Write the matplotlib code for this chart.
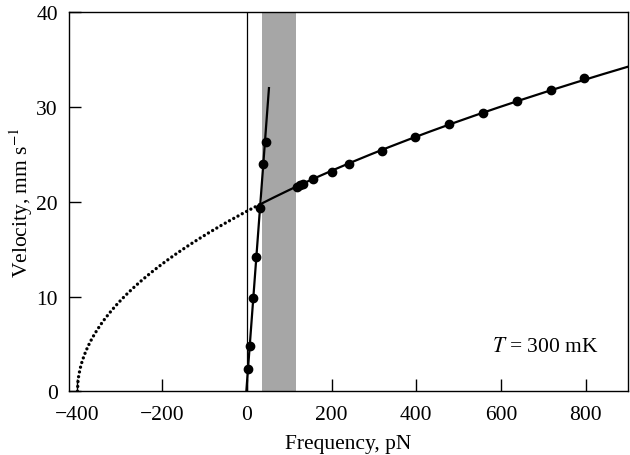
import numpy as np
import matplotlib
matplotlib.use("Agg")
import matplotlib.pyplot as plt

# values
steep_f = [2.4, 8.0, 14.2, 22.0, 30.7, 37.7, 44.0]
steep_v = [2.35, 4.8, 9.8, 14.2, 19.3, 24.0, 26.3]

flat_f = [118, 125, 132, 157, 200, 240, 318, 398, 478, 557, 637, 718, 797]
flat_v = [21.6, 21.8, 21.9, 22.4, 23.1, 24.0, 25.4, 26.8, 28.2, 29.4, 30.6, 31.8, 33.1]

F0 = -400          # where the extrapolated curve reaches zero
band = (35, 115)   # grey band, pN
steep_top = 32     # steep fit drawn up to this velocity

plt.rcParams["font.family"] = ["Liberation Serif", "DejaVu Serif"]
plt.rcParams["mathtext.fontset"] = "stix"
plt.rcParams["font.size"] = 15.5

fig = plt.figure(figsize=(6.3, 4.56), dpi=100)
ax = fig.add_axes([0.1095, 0.1397, 0.8875, 0.8311])

ax.axvspan(band[0], band[1], color="#a6a6a6", lw=0, zorder=0)
ax.axvline(0, color="black", lw=0.9, zorder=1)

# steep line: linear fit f(v)
k, c = np.polyfit(steep_v, steep_f, 1)
vv = np.array([0, steep_top])
ax.plot(k * vv + c, vv, color="black", lw=1.6, zorder=2)
ax.plot(steep_f, steep_v, "o", color="black", ms=6, zorder=3)

# square-root fit v = a*sqrt(f - F0)
s = np.sqrt(np.array(flat_f) - F0)
a = np.sum(np.array(flat_v) * s) / np.sum(s ** 2)
f_join = steep_f[4]
f_dot = np.linspace(F0, f_join, 300)
f_sol = np.linspace(f_join, 900, 300)
ax.plot(f_dot, a * np.sqrt(f_dot - F0), color="black", lw=2.4,
        linestyle=(0, (0.01, 1.45)), dash_capstyle="round", zorder=2)
ax.plot(f_sol, a * np.sqrt(f_sol - F0), color="black", lw=1.6, zorder=2)
ax.plot(flat_f, flat_v, "o", color="black", ms=6, zorder=3)

ax.text(830, 4.7, r"$T$ = 300 mK", ha="right", va="center", fontsize=15.5)

ax.set_xlim(-420, 900)
ax.set_ylim(0, 40)
ax.set_xticks([-400, -200, 0, 200, 400, 600, 800])
ax.set_yticks([0, 10, 20, 30, 40])
ax.tick_params(direction="in", length=8.5, width=1, top=False, right=False)
ax.tick_params(axis="x", pad=10)
ax.tick_params(axis="y", pad=8)
for sp in ax.spines.values():
    sp.set_linewidth(1.0)

ax.set_xlabel("Frequency, pN", labelpad=7)
ax.set_ylabel(r"Velocity, mm s$^{-1}$", labelpad=1)

fig.savefig("out.png", dpi=100)
